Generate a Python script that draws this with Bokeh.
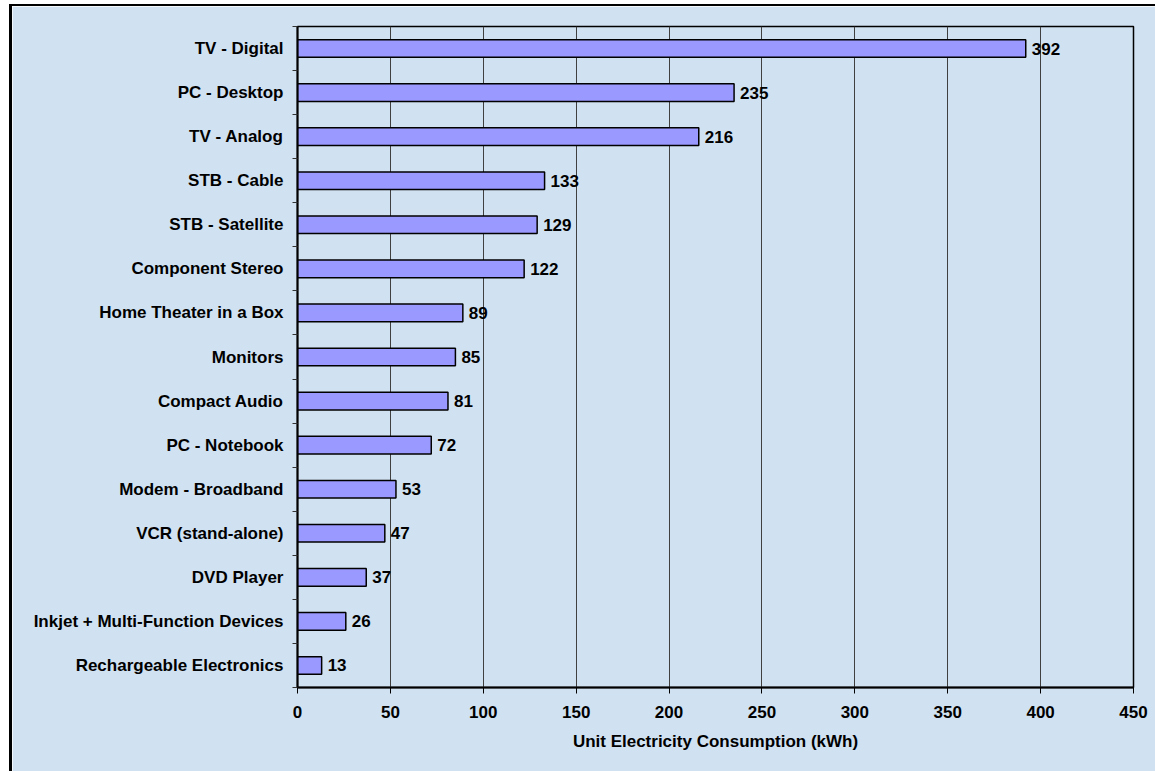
from bokeh.plotting import figure
from bokeh.models import FixedTicker, ColumnDataSource, Range1d
from bokeh.core.properties import value
from bokeh.embed import file_html
from bokeh.resources import INLINE

categories = ["TV - Digital", "PC - Desktop", "TV - Analog", "STB - Cable", "STB - Satellite",
              "Component Stereo", "Home Theater in a Box", "Monitors", "Compact Audio",
              "PC - Notebook", "Modem - Broadband", "VCR (stand-alone)", "DVD Player",
              "Inkjet + Multi-Function Devices", "Rechargeable Electronics"]
values = [392, 235, 216, 133, 129, 122, 89, 85, 81, 72, 53, 47, 37, 26, 13]
x_ticks = [0, 50, 100, 150, 200, 250, 300, 350, 400, 450]
x_title = "Unit Electricity Consumption (kWh)"

n = len(categories)
pos = [n - 1 - i + 0.5 for i in range(n)]
labels = [str(v) for v in values]

BG = "#D0E2F2"
FONT = "Liberation Sans"

src = ColumnDataSource(dict(cat=categories, val=values, y=pos, lab=labels))

p = figure(width=1146, height=767, output_backend="svg", toolbar_location=None,
           x_range=Range1d(0, 450), y_range=Range1d(0, n),
           min_border_left=285, min_border_right=25, min_border_top=20, min_border_bottom=86)
p.styles = {"border-left": "3px solid black", "border-top": "2px solid black",
            "margin-top": "4px", "margin-left": "9px"}

p.background_fill_color = BG
p.border_fill_color = BG
p.outline_line_color = "black"
p.outline_line_width = 1.5

p.hbar(y="y", right="val", left=0, height=0.4, source=src,
       fill_color="#9999FF", line_color="black", line_width=1.5)
p.text(x="val", y="y", text="lab", source=src, x_offset=6,
       text_align="left", text_baseline="middle",
       text_font=value(FONT), text_font_style="bold", text_font_size="17px", text_color="black")

# x axis
xa = p.xaxis[0]
xa.ticker = FixedTicker(ticks=x_ticks)
xa.axis_label = x_title
xa.axis_label_text_font = FONT
xa.axis_label_text_font_style = "bold"
xa.axis_label_text_font_size = "17px"
xa.axis_label_text_color = "black"
xa.axis_label_standoff = 11
xa.major_label_text_font = FONT
xa.major_label_text_font_style = "bold"
xa.major_label_text_font_size = "17px"
xa.major_label_text_color = "black"
xa.major_label_standoff = 12
xa.major_tick_out = 6
xa.major_tick_in = 0
xa.minor_tick_out = 0
xa.minor_tick_in = 0
xa.axis_line_color = "black"
xa.axis_line_width = 2
xa.major_tick_line_color = "black"

# y axis
ya = p.yaxis[0]
ya.ticker = FixedTicker(ticks=pos, minor_ticks=list(range(n + 1)))
ya.major_label_overrides = {float(y): c for y, c in zip(pos, categories)}
ya.major_label_text_font = FONT
ya.major_label_text_font_style = "bold"
ya.major_label_text_font_size = "17px"
ya.major_label_text_color = "black"
ya.major_label_standoff = 9
ya.major_tick_out = 0
ya.major_tick_in = 0
ya.minor_tick_out = 5
ya.minor_tick_in = 0
ya.minor_tick_line_color = "#333333"
ya.axis_line_color = "black"
ya.axis_line_width = 2

p.xgrid.ticker = FixedTicker(ticks=x_ticks)
p.xgrid.grid_line_color = "#404040"
p.xgrid.grid_line_width = 1
p.ygrid.grid_line_color = None

open("out.html", "w").write(file_html(p, INLINE))
